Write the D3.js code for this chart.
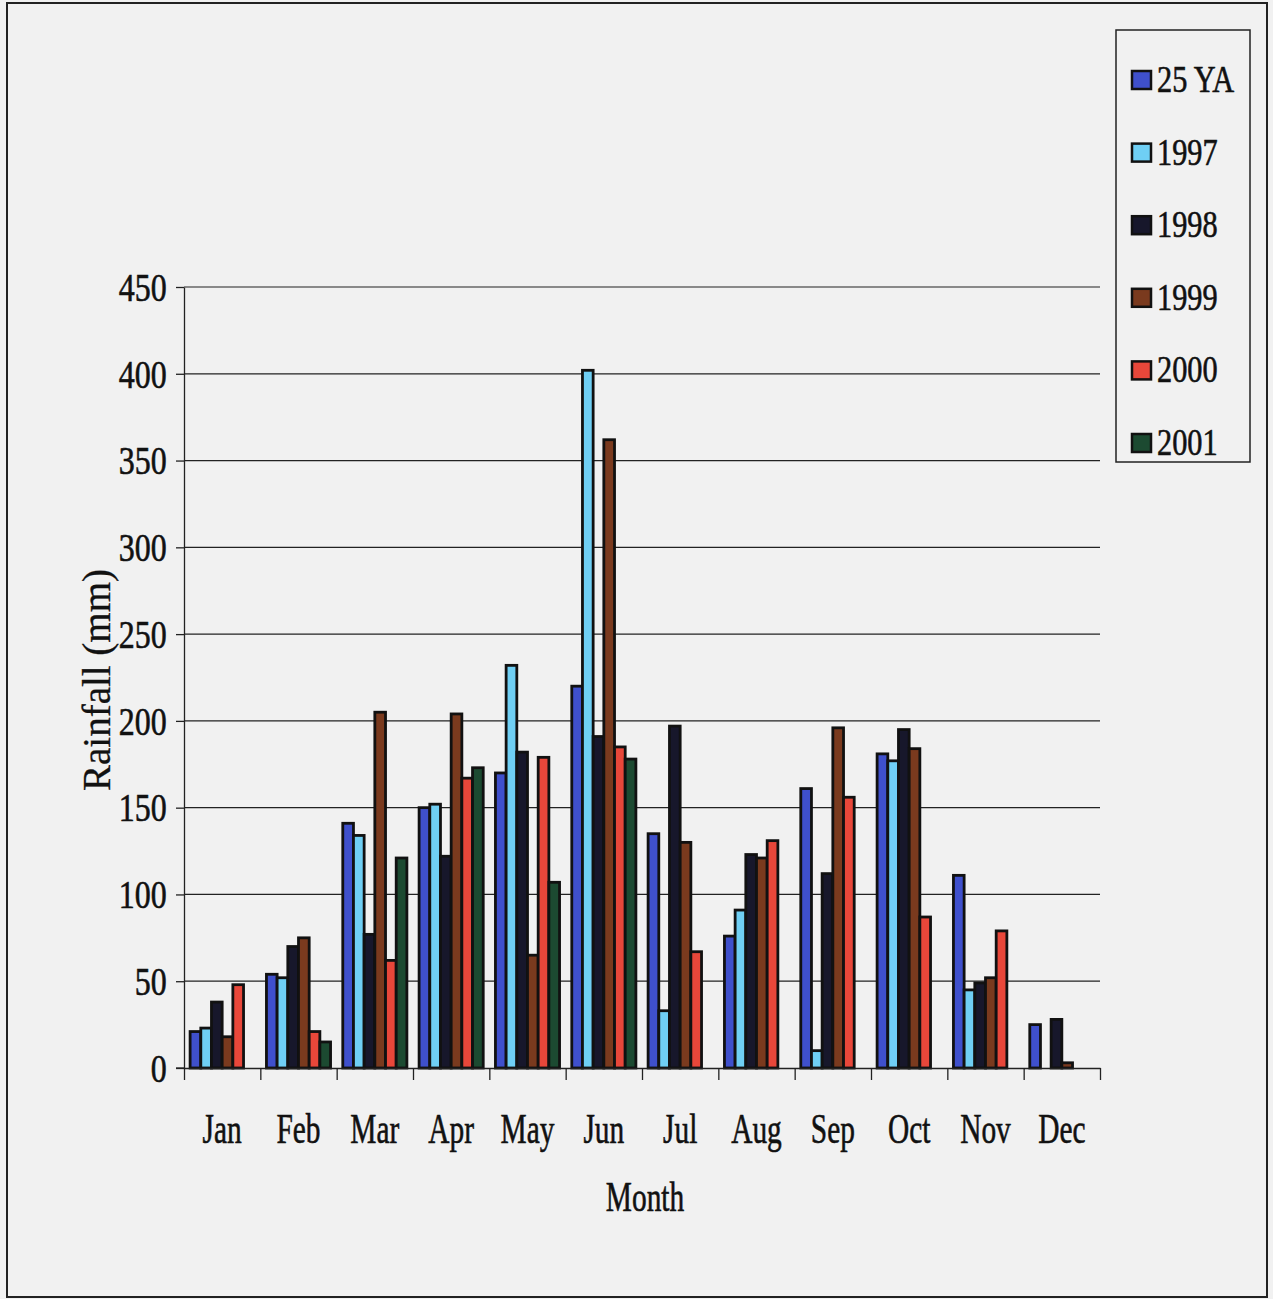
<!DOCTYPE html>
<html>
<head>
<meta charset="utf-8">
<script src="https://cdn.jsdelivr.net/npm/d3@7"></script>
<style>
  html, body { margin: 0; padding: 0; background: #f1f1f1; }
  svg { display: block; }
  text { font-family: "Liberation Serif", "Times New Roman", serif; fill: #111; stroke: #111; stroke-width: 0.6px; }
</style>
</head>
<body>
<svg id="chart" width="1273" height="1299"></svg>
<script>
const months = ["Jan","Feb","Mar","Apr","May","Jun","Jul","Aug","Sep","Oct","Nov","Dec"];
const seriesNames = ["25 YA","1997","1998","1999","2000","2001"];
const ya25  = [21, 54, 141, 150, 170, 220, 135, 76, 161, 181, 111, 25];
const y1997 = [23, 52, 134, 152, 232, 402, 33, 91, 10, 177, 45, 0];
const y1998 = [38, 70, 77, 122, 182, 191, 197, 123, 112, 195, 49, 28];
const y1999 = [18, 75, 205, 204, 65, 362, 130, 121, 196, 184, 52, 3];
const y2000 = [48, 21, 62, 167, 179, 185, 67, 131, 156, 87, 79, 0];
const y2001 = [0, 15, 121, 173, 107, 178, 0, 0, 0, 0, 0, 0];
const yTicks = [0, 50, 100, 150, 200, 250, 300, 350, 400, 450];
const colors = ["#3f50cc", "#6fcff4", "#17172b", "#7a3a1e", "#e8473a", "#1c4a31"];

const seriesValues = [ya25, y1997, y1998, y1999, y2000, y2001];
const svg = d3.select("#chart");

// outer frame
svg.append("rect").attr("x", 7).attr("y", 3).attr("width", 1260).attr("height", 1294)
  .attr("fill", "#f1f1f1").attr("stroke", "#222").attr("stroke-width", 2);

const plotL = 184, plotR = 1100, plotT = 287, plotB = 1068;

const x0 = d3.scaleBand().domain(months).range([plotL, plotR]).paddingInner(0.16).paddingOuter(0.08);
const x1 = d3.scaleBand().domain(seriesNames).range([0, x0.bandwidth()]);
const y = d3.scaleLinear().domain([0, 450]).range([plotB, plotT]);
const xb = d3.scaleLinear().domain([0, 12]).range([plotL, plotR]);

// gridlines
svg.append("g").selectAll("line").data(yTicks.filter(d => d > 0)).join("line")
  .attr("x1", plotL).attr("x2", plotR)
  .attr("y1", d => y(d)).attr("y2", d => y(d))
  .attr("stroke", "#222").attr("stroke-width", 1.2);

// bars
const groups = svg.append("g").selectAll("g").data(months).join("g")
  .attr("transform", d => `translate(${x0(d)},0)`);
groups.selectAll("rect")
  .data((m, i) => seriesNames.map((s, k) => ({ s, k, v: seriesValues[k][i] })).filter(d => d.v > 0))
  .join("rect")
  .attr("x", d => x1(d.s))
  .attr("y", d => y(d.v))
  .attr("width", x1.bandwidth())
  .attr("height", d => y(0) - y(d.v))
  .attr("fill", d => colors[d.k])
  .attr("stroke", "#111").attr("stroke-width", 2.8);

// y axis
const yAxis = svg.append("g").attr("transform", `translate(${plotL},0)`)
  .call(d3.axisLeft(y).tickValues(yTicks).tickSize(8).tickSizeOuter(0));
yAxis.select(".domain").attr("stroke", "#222").attr("stroke-width", 1.3);
yAxis.selectAll(".tick line").attr("stroke", "#222").attr("stroke-width", 1.3);
yAxis.selectAll(".tick text")
  .attr("x", -21).attr("dy", "0.34em")
  .attr("transform", "scale(0.82,1)")
  .style("font-size", "39px").style("font-family", "Liberation Serif");

// x axis boundary ticks
const xAxisB = svg.append("g").attr("transform", `translate(0,${plotB})`)
  .call(d3.axisBottom(xb).tickValues(d3.range(0, 13)).tickSize(12).tickSizeOuter(0).tickFormat(""));
xAxisB.select(".domain").attr("stroke", "#222").attr("stroke-width", 1.3);
xAxisB.selectAll(".tick line").attr("stroke", "#222").attr("stroke-width", 1.3);
svg.append("line").attr("x1", plotL - 8).attr("x2", plotL).attr("y1", plotB).attr("y2", plotB)
  .attr("stroke", "#222").attr("stroke-width", 1.3);

// x labels
const xAxisL = svg.append("g").attr("transform", `translate(0,${plotB})`)
  .call(d3.axisBottom(x0).tickSize(0));
xAxisL.select(".domain").remove();
xAxisL.selectAll(".tick text")
  .attr("y", 75).attr("dy", 0)
  .attr("transform", "scale(0.7,1)")
  .style("font-size", "42px").style("font-family", "Liberation Serif");

// axis titles
svg.append("text")
  .attr("transform", `translate(${(plotL + plotR) / 2 + 3},1211) scale(0.7,1)`)
  .attr("text-anchor", "middle").style("font-size", "42px").text("Month");
svg.append("text")
  .attr("transform", `translate(110,680) rotate(-90)`)
  .attr("text-anchor", "middle").style("font-size", "39px").style("stroke-width", "0.3px").text("Rainfall (mm)");

// legend
const lg = svg.append("g");
lg.append("rect").attr("x", 1116).attr("y", 30).attr("width", 134).attr("height", 432)
  .attr("fill", "#f1f1f1").attr("stroke", "#222").attr("stroke-width", 1.5);
const items = lg.selectAll("g.item").data(seriesNames).join("g").attr("class", "item")
  .attr("transform", (d, i) => `translate(1132,${80 + i * 72.6})`);
items.append("rect").attr("x", 0).attr("y", -9).attr("width", 19).attr("height", 18)
  .attr("fill", (d, i) => colors[i]).attr("stroke", "#111").attr("stroke-width", 2.5);
items.append("text").attr("transform", "translate(25,12) scale(0.82,1)")
  .style("font-size", "37px").text(d => d);
</script>
</body>
</html>
